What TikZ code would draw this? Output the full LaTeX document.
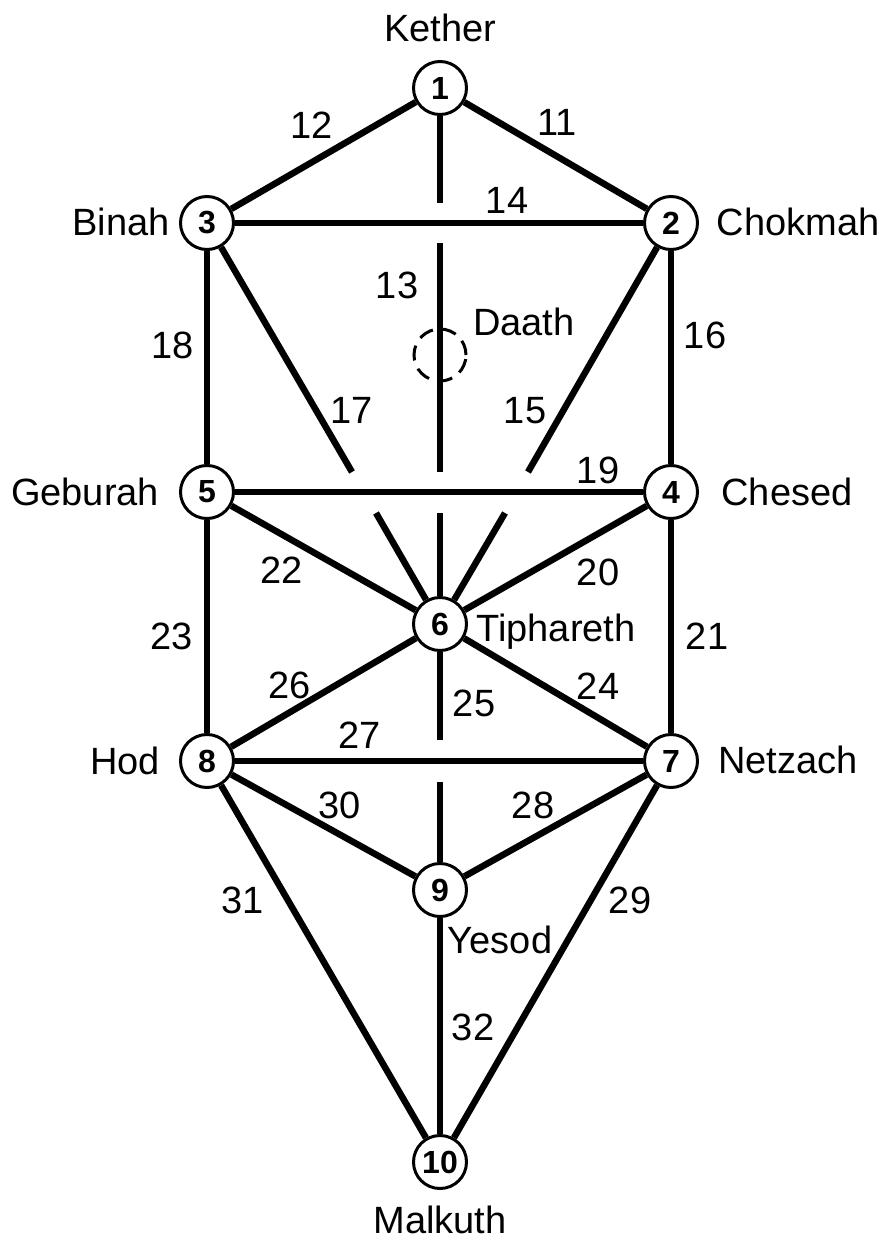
\documentclass[tikz,border=0pt]{standalone}
\usepackage{fontspec}
\setmainfont{Liberation Sans}
\begin{document}
\begin{tikzpicture}[x=1pt,y=-1pt,
  sephira/.style={circle,draw,line width=3pt,fill=white,minimum size=53pt,inner sep=0pt,
    font=\fontsize{32}{34}\selectfont\bfseries},
  path/.style={line width=6.5pt},
  lbl/.style={inner sep=0pt,text height=27pt,text depth=0pt,font=\fontsize{38}{42}\selectfont}]
\useasboundingbox (0,0) rectangle (886,1244);
% sephiroth
\node[sephira] (n1) at (440,88) {1};
\node[sephira] (n2) at (671,223) {2};
\node[sephira] (n3) at (207,223) {3};
\node[sephira] (n4) at (671,492) {4};
\node[sephira] (n5) at (207,492) {5};
\node[sephira] (n6) at (440,624) {6};
\node[sephira] (n7) at (671,761) {7};
\node[sephira] (n8) at (207,761) {8};
\node[sephira] (n9) at (440,890) {9};
\node[sephira] (n10) at (440,1162) {10};
\node[circle,draw,dashed,dash pattern=on 15pt off 9pt,line width=3pt,minimum size=52pt,inner sep=0pt] (daath) at (440,355) {};
% gap coordinates
\coordinate (v1) at (440,203);
\coordinate (v2) at (440,243);
\coordinate (v3) at (440,472);
\coordinate (v4) at (440,513);
\coordinate (d1) at (352,472);
\coordinate (d2) at (376,513);
\coordinate (e1) at (528,472);
\coordinate (e2) at (505,513);
\coordinate (w1) at (440,740);
\coordinate (w2) at (440,782);
% paths
\draw[path] (n1) -- (n2);
\draw[path] (n1) -- (n3);
\draw[path] (n1) -- (v1);
\draw[path] (v2) -- (v3);
\draw[path] (v4) -- (n6);
\draw[path] (n3) -- (n2);
\draw[path] (n2) -- (e1);
\draw[path] (e2) -- (n6);
\draw[path] (n2) -- (n4);
\draw[path] (n3) -- (d1);
\draw[path] (d2) -- (n6);
\draw[path] (n3) -- (n5);
\draw[path] (n5) -- (n4);
\draw[path] (n4) -- (n6);
\draw[path] (n4) -- (n7);
\draw[path] (n5) -- (n6);
\draw[path] (n5) -- (n8);
\draw[path] (n6) -- (n7);
\draw[path] (n6) -- (w1);
\draw[path] (w2) -- (n9);
\draw[path] (n6) -- (n8);
\draw[path] (n8) -- (n7);
\draw[path] (n7) -- (n9);
\draw[path] (n7) -- (n10);
\draw[path] (n8) -- (n9);
\draw[path] (n8) -- (n10);
\draw[path] (n9) -- (n10);
% names
\node[lbl] (tk) at (440,28) {Kether};
\node[lbl] (tb) at (121,222) {Binah};
\node[lbl] (tc) at (798,222) {Chokmah};
\node[lbl] (td) at (524,322) {Daath};
\node[lbl] (tg) at (85,492) {Geburah};
\node[lbl] (th) at (787,492) {Chesed};
\node[lbl] (tt) at (556,628) {Tiphareth};
\node[lbl] (to) at (125,761) {Hod};
\node[lbl] (tn) at (788,760) {Netzach};
\node[lbl] (ty) at (500,940) {Yesod};
\node[lbl] (tm) at (440,1220) {Malkuth};
% path numbers
\node[lbl] (p11) at (557,122) {11};
\node[lbl] (p12) at (312,125) {12};
\node[lbl] (p13) at (397,285) {13};
\node[lbl] (p14) at (507,200) {14};
\node[lbl] (p15) at (525,410) {15};
\node[lbl] (p16) at (705,335) {16};
\node[lbl] (p17) at (352,410) {17};
\node[lbl] (p18) at (173,345) {18};
\node[lbl] (p19) at (598,470) {19};
\node[lbl] (p20) at (598,572) {20};
\node[lbl] (p21) at (707,636) {21};
\node[lbl] (p22) at (282,570) {22};
\node[lbl] (p23) at (172,636) {23};
\node[lbl] (p24) at (598,686) {24};
\node[lbl] (p25) at (474,703) {25};
\node[lbl] (p26) at (290,685) {26};
\node[lbl] (p27) at (360,735) {27};
\node[lbl] (p28) at (533,805) {28};
\node[lbl] (p29) at (630,900) {29};
\node[lbl] (p30) at (340,805) {30};
\node[lbl] (p31) at (243,900) {31};
\node[lbl] (p32) at (473,1027) {32};
\end{tikzpicture}
\end{document}
